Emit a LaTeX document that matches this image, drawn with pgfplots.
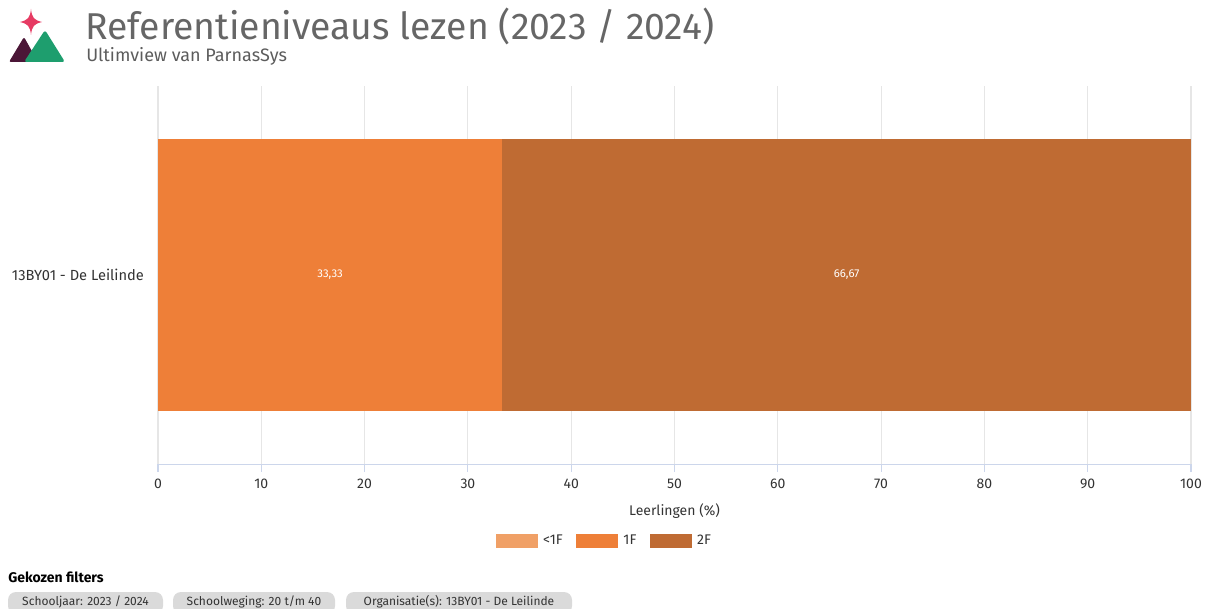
\documentclass[border=0pt]{standalone}
\usepackage{pgfplots}
\pgfplotsset{compat=1.18}
\usepackage{fontspec}
\setmainfont{Fira Sans}
\definecolor{c0}{HTML}{F0A066}
\definecolor{c1}{HTML}{EE7F38}
\definecolor{c2}{HTML}{BF6B33}
\definecolor{gridc}{HTML}{E6E6E6}
\definecolor{axc}{HTML}{CCD6EB}
\definecolor{txt}{HTML}{333333}
\definecolor{ttl}{HTML}{666666}
\definecolor{chip}{HTML}{DADADA}
\definecolor{pink}{HTML}{E63B63}
\definecolor{plum}{HTML}{4B1637}
\definecolor{grn}{HTML}{1E9E6E}
\pgfplotsset{myax/.style={at={(118.5pt,-348pt)}, anchor=south west,
  scale only axis, width=774.75pt, height=283.5pt,
  xmin=0, xmax=100, ymin=-0.5, ymax=0.5}}
\begin{document}
\begin{tikzpicture}
\path[use as bounding box] (0,0) rectangle (909.75pt,-456.75pt);
\begin{scope}[x=0.75pt,y=-0.75pt]
% logo
\fill[pink] (31,9) .. controls (32,18) and (34,20) .. (42,22) .. controls (34,24) and (32,26) .. (31,35) .. controls (30,26) and (28,24) .. (20,22) .. controls (28,20) and (30,18) .. (31,9) -- cycle;
\fill[plum,rounded corners=1.5pt] (9,62) -- (24,37) -- (38,62) -- cycle;
\fill[grn,rounded corners=2pt] (24,62) -- (45,30) -- (65,62) -- cycle;
\node[anchor=base west,inner sep=0pt,text=ttl,font=\fontsize{28}{30}\selectfont] at (85,40) {Referentieniveaus lezen (2023 / 2024)};
\node[anchor=base west,inner sep=0pt,text=ttl!90!black,font=\fontsize{13.5}{15}\selectfont] at (86,62) {Ultimview van ParnasSys};
% filters
\node[anchor=base west,inner sep=0pt,text=black,font=\bfseries\fontsize{10.5}{12}\selectfont] at (8,582) {Gekozen filters};
\foreach \x/\w/\t in {8/155/{Schooljaar: 2023 / 2024},173/162/{Schoolweging: 20 t/m 40},346/226/{Organisatie(s): 13BY01 - De Leilinde}}{
  \fill[chip,rounded corners=6pt] (\x,592) rectangle ++(\w,22);
  \node[anchor=center,inner sep=0pt,text=txt,font=\fontsize{9}{10}\selectfont] at (\x+\w/2,601.5) {\t};
}
\end{scope}
\begin{axis}[myax,
  xbar stacked, bar width=204pt,
  xtick={0,10,...,100}, ytick={0}, yticklabels={13BY01 - De Leilinde},
  axis x line*=bottom, axis y line*=left,
  x axis line style={axc}, y axis line style={draw=none},
  xmajorgrids, grid style={gridc, line width=0.8pt},
  x tick style={axc, line width=0.8pt}, major tick length=6pt, tick align=outside,
  y tick style={draw=none},
  tick label style={text=txt, font=\fontsize{10.5}{12}\selectfont},
  yticklabel style={font=\fontsize{11}{12}\selectfont, xshift=-1pt},
  /pgf/number format/assume math mode=true,
  xticklabel style={yshift=-2pt},
  xlabel={Leerlingen (\%)}, xlabel style={text=txt, font=\fontsize{10.5}{12}\selectfont, yshift=-4pt},
  legend style={at={(0.4337,-0.2037)}, anchor=center, draw=none, legend columns=3,
    font=\fontsize{10.5}{12}\selectfont, text=txt,
    /tikz/every even column/.append style={column sep=6pt},
    nodes={inner xsep=4pt}},
  legend image code/.code={\fill[#1] (0pt,-5.25pt) rectangle (31.5pt,5.25pt);},
]
\addplot[fill=c0, draw=none] coordinates {(0,0)};
\addplot[fill=c1, draw=none] coordinates {(33.33,0)};
\addplot[fill=c2, draw=none] coordinates {(66.67,0)};
\legend{<1F,1F,2F}
\end{axis}
% data labels, centred in their segments
\begin{axis}[myax, hide axis]
\addplot[only marks, mark=none, point meta=explicit symbolic,
  nodes near coords, every node near coord/.style={anchor=center, text=white, font=\fontsize{8.5}{10}\selectfont}]
  coordinates {(16.665,0) [33,33] (66.665,0) [66,67]};
\end{axis}
\end{tikzpicture}
\end{document}
